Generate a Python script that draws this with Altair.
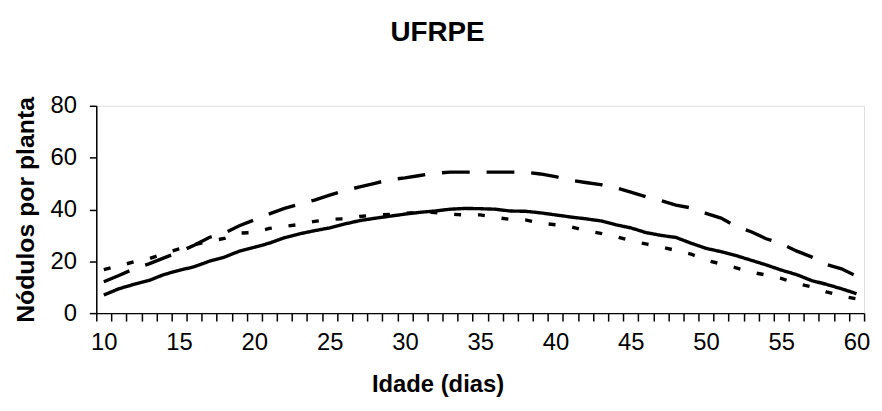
import altair as alt
import pandas as pd

days = list(range(10, 61))

serie_continua = [
    7.0, 9.4, 11.1, 12.6, 14.9, 16.5, 17.9, 20.0, 21.6, 23.9,
    25.4, 27.0, 29.1, 30.6, 31.8, 32.9, 34.4, 35.7, 36.6, 37.4,
    38.2, 38.9, 39.4, 40.1, 40.4, 40.3, 40.1, 39.4, 39.3, 38.7,
    37.9, 37.1, 36.4, 35.6, 34.1, 32.9, 31.1, 30.0, 29.2, 27.0,
    25.0, 23.7, 22.2, 20.4, 18.6, 16.6, 14.9, 12.6, 11.1, 9.4,
    7.5,
]

serie_traco_longo = [
    12.1, 14.5, 17.1, 19.0, 21.3, 23.6, 26.2, 29.2, 30.9, 33.7,
    36.0, 38.3, 40.4, 42.1, 43.6, 45.5, 47.3, 48.7, 50.1, 51.5,
    52.2, 53.1, 54.0, 54.4, 54.4, 54.4, 54.4, 54.4, 54.4, 53.7,
    52.7, 51.3, 50.4, 49.6, 48.4, 46.7, 44.9, 43.4, 41.7, 40.6,
    38.5, 36.7, 33.4, 31.4, 28.7, 26.8, 24.0, 21.7, 18.8, 17.1,
    14.3,
]

serie_traco_curto = [
    16.8, 18.2, 19.8, 21.0, 23.0, 24.8, 26.4, 27.7, 28.8, 30.9,
    31.1, 32.7, 33.5, 34.2, 35.4, 36.2, 36.4, 37.3, 37.9, 38.1,
    38.5, 39.0, 38.8, 38.2, 37.9, 37.9, 36.9, 36.2, 36.0, 34.7,
    34.1, 33.4, 31.8, 30.8, 29.6, 27.9, 26.7, 25.5, 24.2, 22.8,
    20.4, 19.0, 17.5, 15.8, 14.7, 13.4, 11.4, 10.2, 8.2, 6.6,
    5.5,
]

series_names = ["Série 1", "Série 2", "Série 3"]
series_values = [serie_continua, serie_traco_longo, serie_traco_curto]

x_tick_bounds = [d - 0.5 for d in days] + [days[-1] + 0.5]
x_label_values = [10, 15, 20, 25, 30, 35, 40, 45, 50, 55, 60]
y_ticks = [0, 20, 40, 60, 80]

rows = []
for name, vals in zip(series_names, series_values):
    for d, v in zip(days, vals):
        rows.append({"dia": d, "nodulos": v, "serie": name})
df = pd.DataFrame(rows)

FONT = "Liberation Sans"

x_scale = alt.Scale(domain=[9.5, 60.5], nice=False, zero=False)
y_scale = alt.Scale(domain=[0, 80], nice=False)

y_axis = alt.Axis(
    values=y_ticks,
    title="Nódulos por planta",
    titleFontSize=25,
    titleFontWeight="bold",
    titleFont=FONT,
    titleColor="black",
    titlePadding=12,
    labelFont=FONT,
    labelFontSize=24,
    labelColor="black",
    labelPadding=13,
    tickSize=7,
    tickColor="black",
    tickWidth=1.5,
    domainColor="black",
    domainWidth=1.5,
    grid=False,
)

dash_enc = alt.StrokeDash(
    "serie:N",
    scale=alt.Scale(domain=series_names, range=[[1, 0], [28, 17], [7, 17]]),
    legend=None,
)

lines = alt.Chart(df).mark_line(color="black", strokeWidth=3.4, strokeCap="butt").encode(
    x=alt.X(
        "dia:Q",
        scale=x_scale,
        axis=alt.Axis(
            orient="bottom",
            values=x_tick_bounds,
            labels=False,
            title=None,
            tickSize=8,
            tickColor="black",
            tickWidth=1.5,
            domainColor="black",
            domainWidth=1.5,
            grid=False,
        ),
    ),
    y=alt.Y("nodulos:Q", scale=y_scale, axis=y_axis),
    strokeDash=dash_enc,
    detail="serie:N",
)

labels_layer = alt.Chart(df).mark_line(opacity=0).encode(
    x=alt.X(
        "dia:Q",
        scale=x_scale,
        axis=alt.Axis(
            orient="bottom",
            values=x_label_values,
            ticks=False,
            tickSize=0,
            domain=False,
            labelFont=FONT,
            labelFontSize=24,
            labelColor="black",
            labelPadding=18,
            title="Idade (dias)",
            titleFont=FONT,
            titleFontSize=24,
            titleFontWeight="bold",
            titleColor="black",
            titlePadding=18,
            titleX=344,
            titleAnchor="middle",
            grid=False,
        ),
    ),
    y=alt.Y("nodulos:Q", scale=y_scale, axis=y_axis),
    detail="serie:N",
)

chart = (
    alt.layer(lines, labels_layer)
    .resolve_axis(x="independent")
    .properties(
        width=774,
        height=209,
        title=alt.TitleParams(
            "UFRPE",
            font=FONT,
            fontSize=28,
            fontWeight="bold",
            color="black",
            anchor="middle",
            frame="group",
            dx=-43,
            offset=47,
        ),
        autosize=alt.AutoSizeParams(type="none"),
        padding={"left": 89, "top": 97, "right": 10, "bottom": 88},
    )
    .configure_view(strokeWidth=0, stroke="transparent")
    .configure(background="white")
)

chart.save("out.html", embed_options={"renderer": "svg", "actions": False})
